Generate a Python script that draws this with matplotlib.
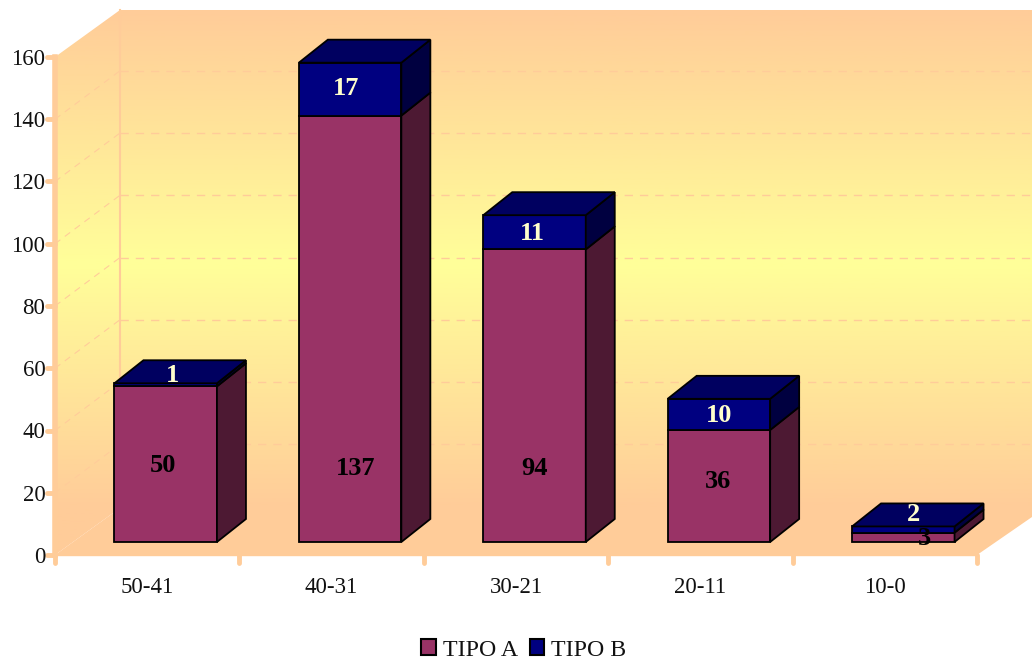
import numpy as np
import matplotlib
matplotlib.use("Agg")
import matplotlib.pyplot as plt
import matplotlib.lines as mlines
from matplotlib.markers import MarkerStyle
from matplotlib.patches import Polygon, Patch
from matplotlib.transforms import Affine2D
from matplotlib.colors import LinearSegmentedColormap

categories = ["50-41", "40-31", "30-21", "20-11", "10-0"]
tipo_a = [50, 137, 94, 36, 3]
tipo_b = [1, 17, 11, 10, 2]
y_ticks = list(range(0, 161, 20))

# label nudges in pixels, relative to the centre of each segment's front face
a_nudge = [(-3, 0), (6, -139), (0, -72), (-1, 5), (21, 0)]
b_nudge = [(7, 10), (-4, 2), (-2, 0), (0, 0), (10, 16)]

PEACH = "#FFCC99"
W, H = 1032, 660
plt.rcParams["font.family"] = ["Liberation Serif", "DejaVu Serif"]
FS = 16.5
FS_BAR = 19
FS_LEG = 17.2

fig = plt.figure(figsize=(W / 100, H / 100), dpi=100)

# backdrop walls and floor
bg = fig.add_axes([0, 0, 1, 1], zorder=0)
bg.set_xlim(0, W)
bg.set_ylim(H, 0)
bg.axis("off")
mid = (264 - 10) / (555 - 10)
cmap = LinearSegmentedColormap.from_list(
    "wall", [(0, PEACH), (mid, "#FFFF99"), ((508 - 10) / (555 - 10), PEACH), (1, PEACH)])
grad = np.linspace(0, 1, 512).reshape(-1, 1)
im = bg.imshow(grad, cmap=cmap, extent=(55, W, 555, 10), aspect="auto", zorder=1)
wall = Polygon([(55, 57), (120, 10), (W, 10), (W, 508), (120, 508), (55, 555)], closed=True,
               transform=bg.transData, fc="none", ec="none")
bg.add_patch(wall)
im.set_clip_path(wall)
bg.set_xlim(0, W)
bg.set_ylim(H, 0)
bg.add_patch(Polygon([(55, 555), (120, 508), (W, 508), (W, 517), (977, 555)], closed=True,
                     fc=PEACH, ec="none", zorder=2))

# main chart axes: the front plane
ax = fig.add_axes([55 / W, (H - 555) / H, 922 / W, 498 / H], zorder=1)
ax.patch.set_alpha(0)
ax.set_xlim(0, 5)
ax.set_ylim(0, 160)
px_x = 922 / 5
px_y = 498 / 160

back = ax.transData + Affine2D().translate(65, 48.5)
for v in y_ticks[1:-1]:
    ax.plot([0, 6], [v, v], transform=back, color=PEACH, lw=1, ls=(0, (6, 5)),
            clip_on=False, zorder=1)
    ax.plot([0, 65 / px_x], [v, v + 48.5 / px_y], color=PEACH, lw=0.8, ls=(0, (6, 5)),
            clip_on=False, zorder=1)
ax.plot([0, 0], [-0.5, 159.5], transform=back, color=PEACH, lw=1.5, clip_on=False, zorder=1)

# bars
offset = ax.transData + Affine2D().translate(18.5, 13)
x = np.arange(len(categories)) + 0.5
bw = 102.5 / px_x
dx = 29 / px_x
dy = 23 / px_y
EDGE = dict(ec="black", lw=1.3, joinstyle="miter", clip_on=False, zorder=3)


def side(xc, b, t, color):
    r = xc + bw / 2
    ax.add_patch(Polygon([(r, b), (r + dx, b + dy), (r + dx, t + dy), (r, t)], closed=True,
                         fc=color, transform=offset, **EDGE))


def top(xc, t, color):
    l, r = xc - bw / 2, xc + bw / 2
    ax.add_patch(Polygon([(l, t), (l + dx, t + dy), (r + dx, t + dy), (r, t)], closed=True,
                         fc=color, transform=offset, **EDGE))


ax.bar(x, tipo_a, width=bw, color="#993366", transform=offset, **EDGE)
ax.bar(x, tipo_b, width=bw, bottom=tipo_a, color="#000080", transform=offset, **EDGE)
ax.set_xlim(0, 5)
ax.set_ylim(0, 160)

for i, xc in enumerate(x):
    a, b = tipo_a[i], tipo_b[i]
    side(xc, 0, a, "#4D1933")
    side(xc, a, a + b, "#000040")
    top(xc, a + b, "#000060")
    ax.annotate(str(a), (xc, a / 2), xycoords=offset,
                xytext=(a_nudge[i][0], a_nudge[i][1] - 1), textcoords="offset pixels",
                ha="center", va="center", fontsize=FS_BAR, fontweight="bold", color="black",
                annotation_clip=False, zorder=5)
    ax.annotate(str(b), (xc, a + b / 2), xycoords=offset,
                xytext=(b_nudge[i][0], b_nudge[i][1] - 1), textcoords="offset pixels",
                ha="center", va="center", fontsize=FS_BAR, fontweight="bold", color="#FFFFCC",
                annotation_clip=False, zorder=5)

# axes furniture
for s in ["top", "right"]:
    ax.spines[s].set_visible(False)
ax.spines["bottom"].set_color(PEACH)
ax.spines["left"].set_color(PEACH)
ax.spines["left"].set_linewidth(4)
ax.spines["bottom"].set_linewidth(1)
ax.set_yticks(y_ticks)
ax.set_xticks(range(len(categories) + 1))
ax.set_xticklabels([])
ax.set_xticks(x, categories, minor=True)
ax.tick_params(axis="y", length=6, width=3.5, color=PEACH, labelsize=FS, pad=1, labelcolor="#111111")
ax.tick_params(axis="x", which="major", length=6, width=3.5, color=PEACH, labelbottom=False)
ax.tick_params(axis="x", which="minor", length=0, labelsize=FS, pad=15.5, labelcolor="#111111")
for t in ax.yaxis.get_major_ticks():
    t.tick1line.set_marker(MarkerStyle(mlines.TICKLEFT, capstyle="round"))
for t in ax.xaxis.get_major_ticks():
    t.tick1line.set_marker(MarkerStyle(mlines.TICKDOWN, capstyle="round"))

fig.legend(handles=[Patch(fc="#993366", ec="black", lw=1.5, label="TIPO A"),
                    Patch(fc="#000080", ec="black", lw=1.5, label="TIPO B")],
           loc="center", bbox_to_anchor=(524 / W, (H - 650) / H), ncol=2, frameon=False,
           fontsize=FS_LEG, handlelength=0.6, handleheight=0.6, handletextpad=0.3,
           columnspacing=0.5, borderpad=0, labelcolor="#111111")

fig.savefig("out.png", dpi=100)
